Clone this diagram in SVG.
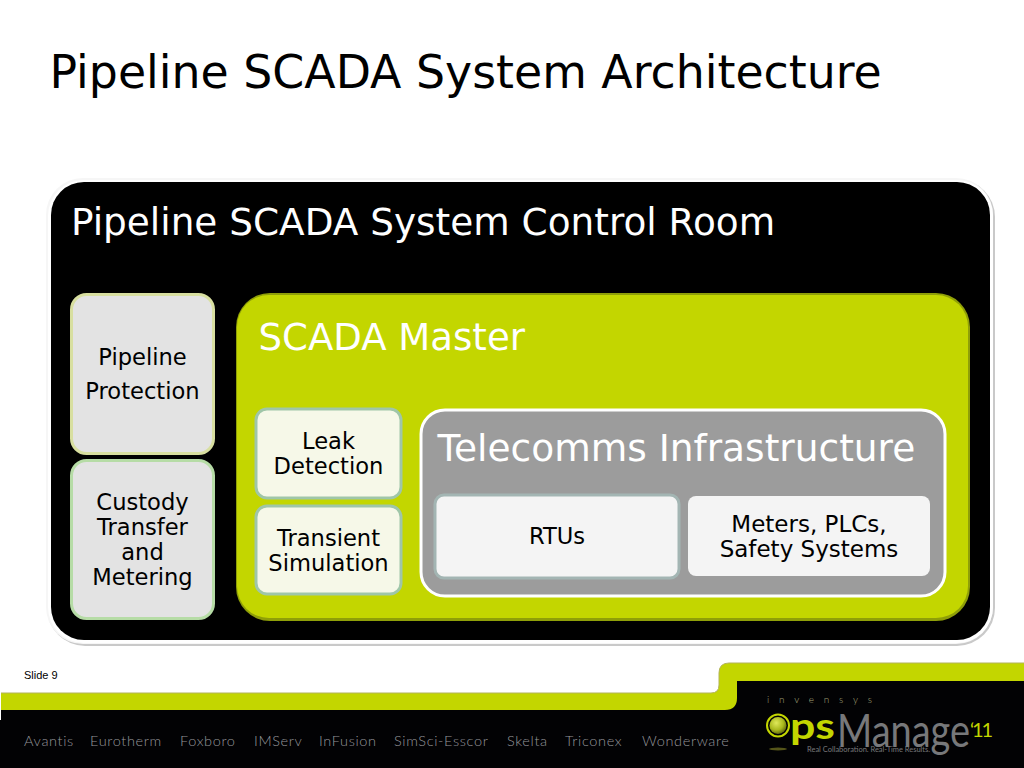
<svg xmlns="http://www.w3.org/2000/svg" width="1024" height="768" viewBox="0 0 1024 768">
<style>
text{font-family:"DejaVu Sans",Verdana,sans-serif}
.c{text-anchor:middle;fill:#000;font-size:22.6px}
.h{fill:#fff}
.f{font-family:"Lato","Open Sans",sans-serif;font-weight:300;font-size:14.5px;fill:#96969b;letter-spacing:.65px}
.l{font-family:"Lato","Open Sans",sans-serif}
.side{fill:#e3e3e3;stroke:#d8dfa0;stroke-width:3}
.tool{fill:#f6f8e8;stroke:#9fc6a8;stroke-width:3}
</style>
<defs>
<radialGradient id="ball" cx=".4" cy=".35" r=".7"><stop offset="0" stop-color="#dfe85a"/><stop offset=".6" stop-color="#a9b81c"/><stop offset="1" stop-color="#59600c"/></radialGradient>
</defs>
<rect width="1024" height="768" fill="#fff"/>
<text id="title" x="49.500" y="88" font-size="45.8px" fill="#000">Pipeline SCADA System Architecture</text>

<g id="control-room">
<rect x="47" y="179" width="948" height="467" rx="38" fill="#c9c9c9"/>
<rect x="46" y="178" width="947" height="466" rx="37" fill="#f6f6f6"/>
<rect x="48" y="180" width="945" height="463" rx="36" fill="#fff"/>
<rect x="51" y="182" width="939" height="458" rx="33" fill="#000"/>
<text class="h" x="71" y="235" font-size="37.4px">Pipeline SCADA System Control Room</text>
</g>
<g id="pipeline-protection">
<rect class="side" x="71.500" y="294.500" width="142" height="159" rx="15"/>
<text class="c" x="142.500" y="364.500">Pipeline</text>
<text class="c" x="142.500" y="398.500">Protection</text>
</g>
<g id="custody-transfer">
<rect class="side" x="71.500" y="460.500" width="142" height="158" rx="15" style="stroke:#b6dca6"/>
<text class="c" x="142.500" y="509.500">Custody</text>
<text class="c" x="142.500" y="534.500">Transfer</text>
<text class="c" x="142.500" y="559.500">and</text>
<text class="c" x="142.500" y="584.500">Metering</text>
</g>
<g id="scada-master">
<rect x="236" y="293" width="734" height="328" rx="34" fill="#8f9f08"/>
<rect x="237" y="295" width="731" height="323" rx="32" fill="#c3d600"/>
<text class="h" x="258.500" y="349.500" font-size="37.1px">SCADA Master</text>
</g>
<g id="leak-detection">
<rect class="tool" x="256" y="409" width="145" height="89" rx="11"/>
<text class="c" x="328.500" y="448.500">Leak</text>
<text class="c" x="328.500" y="473.500">Detection</text>
</g>
<g id="transient-simulation">
<rect class="tool" x="256" y="506" width="145" height="88" rx="11"/>
<text class="c" x="328.500" y="545.500">Transient</text>
<text class="c" x="328.500" y="570.500">Simulation</text>
</g>
<g id="telecomms">
<rect x="421" y="410" width="524" height="186" rx="24" fill="#9c9c9c" stroke="#fff" stroke-width="3"/>
<text class="h" x="437.500" y="460.500" font-size="37.5px">Telecomms Infrastructure</text>
</g>
<g id="rtus">
<rect x="435" y="495" width="244" height="83" rx="9" fill="#f4f4f4" stroke="#a3b5b3" stroke-width="3"/>
<text class="c" x="557" y="543.500">RTUs</text>
</g>
<g id="meters">
<rect x="688" y="496" width="242" height="80" rx="8" fill="#f4f4f4"/>
<text class="c" x="809" y="531.500" style="font-size:23px">Meters, PLCs,</text>
<text class="c" x="809" y="556.500" style="font-size:23px">Safety Systems</text>
</g>
<g id="connectors"></g>

<text x="24" y="679" font-size="11px" fill="#000" style="font-family:'Liberation Sans',Arial,sans-serif">Slide 9</text>

<g id="footer">
<path d="M1 693H711Q719 693 719 685V673Q719 663 729 663H1024V768H1V693Z" fill="#c3d600"/>
<path d="M1 693H711Q719 693 719 685V673Q719 663 729 663H1024" fill="none" stroke="#b3b35a" stroke-width="1"/>
<path d="M0 720H1V710H725Q737 710 737 698V681H1024V768H0Z" fill="#020204"/>
<text class="f" x="24" y="746">Avantis</text>
<text class="f" x="90" y="746">Eurotherm</text>
<text class="f" x="180" y="746">Foxboro</text>
<text class="f" x="254" y="746">IMServ</text>
<text class="f" x="319" y="746">InFusion</text>
<text class="f" x="394" y="746">SimSci-Esscor</text>
<text class="f" x="507" y="746">Skelta</text>
<text class="f" x="565" y="746">Triconex</text>
<text class="f" x="642" y="746">Wonderware</text>
<text class="l" x="767" y="703" font-size="10px" font-weight="300" fill="#a5a57a" textLength="105">invensys</text>
<ellipse cx="778" cy="749" rx="9" ry="1.500" fill="#55551a"/>
<circle cx="778" cy="725.500" r="11" fill="none" stroke="#c3d600" stroke-width="2"/>
<circle cx="778" cy="725.500" r="8.500" fill="url(#ball)"/>
<text class="l" x="790" y="739" font-size="36px" font-weight="700" fill="#c3d600" textLength="45" lengthAdjust="spacingAndGlyphs">ps</text>
<text class="l" x="837" y="747" font-size="46px" fill="#77787a" textLength="133" lengthAdjust="spacingAndGlyphs">Manage</text>
<text class="l" x="970" y="737" font-size="20px" fill="#c3d600" textLength="23">‘11</text>
<text class="l" x="807" y="752" font-size="7.500px" fill="#77787a" textLength="123">Real Collaboration. Real-Time Results.</text>
</g>
</svg>
